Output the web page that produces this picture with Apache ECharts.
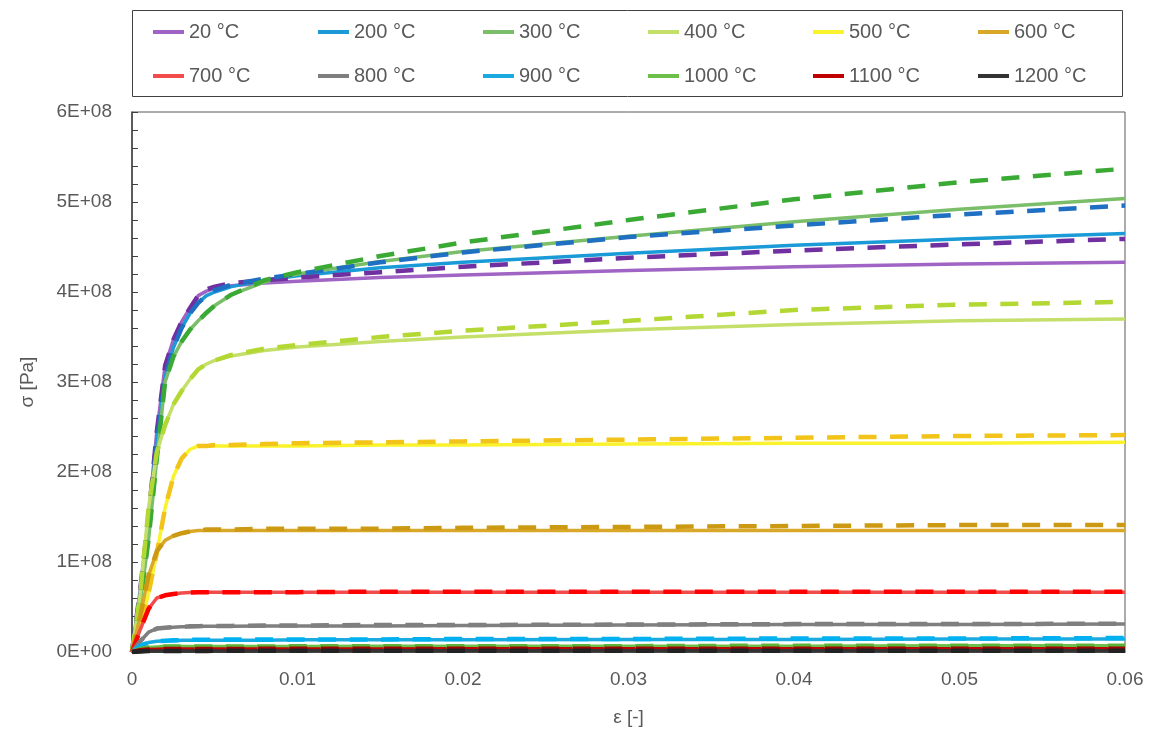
<!DOCTYPE html>
<html>
<head>
<meta charset="utf-8">
<script src="https://cdn.jsdelivr.net/npm/echarts@6/dist/echarts.min.js"></script>
<style>
  html, body { margin: 0; padding: 0; background: #ffffff; }
  #chart { width: 1162px; height: 733px; }
</style>
</head>
<body>
<div id="chart"></div>
<script>
// Strain sampling points shared by every curve
const strain = [0, 0.0005, 0.001, 0.0015, 0.002, 0.0025, 0.003, 0.0035, 0.004, 0.0045,
                0.005, 0.006, 0.008, 0.01, 0.015, 0.02, 0.03, 0.04, 0.05, 0.06];

const temps = ['20 °C', '200 °C', '300 °C', '400 °C', '500 °C', '600 °C',
               '700 °C', '800 °C', '900 °C', '1000 °C', '1100 °C', '1200 °C'];

// Stress in MPa, solid curves
const solid20   = [0, 70, 150, 245, 318, 347, 367, 382, 396, 401, 404, 407, 410, 412, 416, 419, 424, 428, 431, 433];
const solid200  = [0, 65, 140, 235, 305, 338, 360, 376, 388, 396, 400, 406, 413, 418, 427, 433, 443, 452, 459, 465];
const solid300  = [0, 55, 125, 215, 300, 328, 345, 358, 368, 377, 385, 397, 411, 420, 434, 445, 462, 478, 492, 504];
const solid400  = [0, 65, 160, 222, 252, 275, 290, 303, 314, 320, 324, 329, 335, 339, 345, 350, 358, 364, 368, 370];
const solid500  = [0, 28, 65, 110, 160, 195, 215, 225, 229, 229, 229, 229, 229, 229, 230, 230, 231, 232, 232, 233];
const solid600  = [0, 40, 85, 112, 124, 129, 132, 134, 135, 135, 135, 135, 135, 135, 135, 135, 135, 135, 135, 135];
const solid700  = [0, 25, 48, 60, 63, 64.5, 65.5, 66, 66.5, 66.5, 66.5, 66.5, 66.5, 66.5, 66.5, 66.5, 66.5, 66.5, 66.5, 66.5];
const solid800  = [0, 12, 22, 26, 27, 27.5, 28, 28, 28.5, 28.5, 28.5, 28.5, 29, 29, 29, 29.5, 30, 30.5, 30.5, 31];
const solid900  = [0, 7, 10.5, 12, 12.5, 12.5, 13, 13, 13, 13, 13, 13, 13, 13.5, 13.5, 13.5, 14, 14, 14.5, 14.5];
const solid1000 = [0, 3.5, 5, 5.5, 6, 6, 6, 6, 6, 6, 6, 6, 6, 6, 6.5, 6.5, 6.5, 6.5, 7, 7];
const solid1100 = [0, 2, 2.8, 3, 3.2, 3.2, 3.3, 3.3, 3.3, 3.3, 3.3, 3.3, 3.4, 3.4, 3.4, 3.5, 3.5, 3.5, 3.5, 3.5];
const solid1200 = [0, 0.6, 1, 1.1, 1.2, 1.2, 1.2, 1.2, 1.2, 1.2, 1.2, 1.2, 1.2, 1.3, 1.3, 1.3, 1.3, 1.3, 1.3, 1.3];

// Stress in MPa, dashed curves
const dash20   = [0, 70, 150, 245, 318, 347, 367, 382, 396, 403, 406, 410, 413, 416, 422, 428, 438, 446, 453, 459];
const dash200  = [0, 65, 140, 235, 305, 338, 360, 376, 388, 396, 402, 408, 415, 420, 433, 444, 461, 474, 486, 496];
const dash300  = [0, 55, 125, 215, 300, 328, 345, 358, 368, 377, 385, 397, 413, 422, 440, 455, 480, 503, 522, 537];
const dash400  = [0, 65, 160, 222, 252, 275, 290, 303, 314, 320, 324, 330, 337, 341, 350, 357, 368, 380, 386, 389];
const dash500  = [0, 28, 65, 110, 160, 195, 215, 225, 229, 229, 230, 230, 231, 232, 233, 234, 236, 238, 240, 241];
const dash600  = [0, 40, 85, 112, 124, 129, 132, 134, 135, 136, 136, 136, 137, 137, 137, 138, 139, 140, 141, 141];
const dash700  = [0, 25, 48, 60, 63, 64.5, 65.5, 66, 66.5, 66.5, 66.5, 66.5, 66.5, 66.5, 67, 67, 67, 67, 67, 67];
const dash800  = [0, 12, 22, 26, 27, 27.5, 28, 28.5, 28.5, 29, 29, 29, 29.5, 29.5, 30, 30, 30.5, 31, 31, 31.5];
const dash900  = [0, 7, 10.5, 12, 12.5, 13, 13, 13.5, 13.5, 13.5, 13.5, 14, 14, 14, 14, 14.5, 14.5, 15, 15, 15.5];
const dash1000 = [0, 3.5, 5, 5.5, 6, 6, 6, 6, 6, 6, 6, 6, 6, 6.5, 6.5, 6.5, 6.5, 7, 7, 7];
const dash1100 = [0, 2, 2.8, 3, 3.2, 3.3, 3.3, 3.4, 3.4, 3.4, 3.4, 3.4, 3.5, 3.5, 3.5, 3.6, 3.6, 3.6, 3.7, 3.7];
const dash1200 = [0, 0.6, 1, 1.1, 1.2, 1.2, 1.2, 1.2, 1.2, 1.2, 1.3, 1.3, 1.3, 1.3, 1.3, 1.3, 1.4, 1.4, 1.4, 1.4];

const xTickLabels = ['0', '0.01', '0.02', '0.03', '0.04', '0.05', '0.06'];
const yTickLabels = ['0E+00', '1E+08', '2E+08', '3E+08', '4E+08', '5E+08', '6E+08'];

const solidSets = [solid20, solid200, solid300, solid400, solid500, solid600,
                   solid700, solid800, solid900, solid1000, solid1100, solid1200];
const dashSets  = [dash20, dash200, dash300, dash400, dash500, dash600,
                   dash700, dash800, dash900, dash1000, dash1100, dash1200];

const solidColors = ['#A064C4', '#1A9AD6', '#7BBE6A', '#C4DF6A', '#FAF22C', '#DAA829',
                     '#F24B4B', '#7F7F7F', '#1BAAE0', '#6CC04A', '#C00000', '#333333'];
const dashColors  = ['#7030A0', '#1F6FC2', '#3AAA35', '#B3D733', '#F2C318', '#CC9A12',
                     '#FF0000', '#7F7F7F', '#00B0F0', '#5DB33A', '#A00000', '#222222'];

const toPairs = (vals) => strain.map((e, i) => [e, vals[i] * 1e6]);

const series = [];
solidSets.forEach((vals, k) => {
  series.push({
    name: temps[k], type: 'line', data: toPairs(vals),
    symbol: 'none', showSymbol: false, smooth: false, z: 2,
    color: solidColors[k],
    lineStyle: { color: solidColors[k], width: 3.5, type: 'solid' },
    emphasis: { disabled: true }
  });
});
dashSets.forEach((vals, k) => {
  series.push({
    name: temps[k], type: 'line', data: toPairs(vals),
    symbol: 'none', showSymbol: false, smooth: false, z: 3,
    color: dashColors[k],
    lineStyle: { color: dashColors[k], width: 4.5, type: [18, 13.5], cap: 'butt' },
    emphasis: { disabled: true }
  });
});

// One legend entry per temperature, laid out as a 6 x 2 table
const legendFont = { fontFamily: 'Liberation Sans, Arial, sans-serif', fontSize: 20, color: '#595959' };
const legends = temps.map((t, k) => ({
  data: [t],
  left: 153 + 165 * (k % 6),
  top: k < 6 ? 22 : 66,
  padding: 0,
  icon: 'rect',
  itemWidth: 31,
  itemHeight: 4,
  selectedMode: false,
  textStyle: legendFont
}));

const chart = echarts.init(document.getElementById('chart'), null, { renderer: 'canvas' });
chart.setOption({
  animation: false,
  backgroundColor: '#ffffff',
  legend: legends,
  graphic: [{
    type: 'rect',
    shape: { x: 132.5, y: 10.5, width: 990, height: 86 },
    style: { fill: 'none', stroke: '#404040', lineWidth: 1 },
    silent: true
  }],
  grid: {
    left: 132, right: 37, top: 112, bottom: 81,
    show: true, borderColor: '#595959', borderWidth: 1, backgroundColor: 'transparent'
  },
  xAxis: {
    type: 'value', min: 0, max: 0.06, interval: 0.01,
    name: 'ε [-]', nameLocation: 'middle', nameGap: 56,
    nameTextStyle: { fontFamily: 'Liberation Sans, Arial, sans-serif', fontSize: 19, color: '#595959' },
    axisLine: { show: true, onZero: false, lineStyle: { color: '#404040', width: 1.5 } },
    axisTick: { show: false },
    splitLine: { show: false },
    axisLabel: {
      margin: 18, fontFamily: 'Liberation Sans, Arial, sans-serif', fontSize: 19, color: '#595959',
      formatter: (v) => xTickLabels[Math.round(v / 0.01)]
    }
  },
  yAxis: {
    type: 'value', min: 0, max: 6e8, interval: 1e8,
    name: 'σ [Pa]', nameLocation: 'middle', nameGap: 95, nameRotate: 90,
    nameTextStyle: { fontFamily: 'Liberation Sans, Arial, sans-serif', fontSize: 19, color: '#595959' },
    axisLine: { show: true, lineStyle: { color: '#404040', width: 1.5 } },
    axisTick: { show: true, inside: true, length: 6, lineStyle: { color: '#404040' } },
    minorTick: { show: true, splitNumber: 5, length: 6, lineStyle: { color: '#404040' } },
    splitLine: { show: false },
    axisLabel: {
      margin: 20, fontFamily: 'Liberation Sans, Arial, sans-serif', fontSize: 19, color: '#595959',
      formatter: (v) => yTickLabels[Math.round(v / 1e8)]
    }
  },
  series: series
});
</script>
</body>
</html>
